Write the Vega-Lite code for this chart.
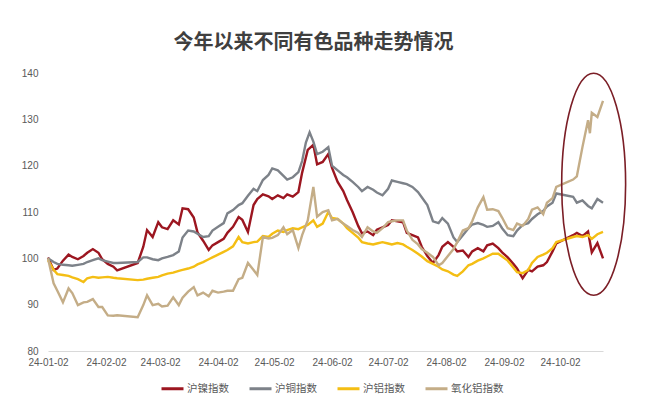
{
"$schema": "https://vega.github.io/schema/vega-lite/v6.json",
"width": 555, "height": 278,
"autosize": {"type": "none"},
"padding": {"left": 48, "top": 73, "right": 51, "bottom": 54},
"background": "white",
"title": {"text": "今年以来不同有色品种走势情况", "font": "Noto Sans CJK SC", "fontSize": 20, "fontWeight": "bold", "color": "#3F3F3F", "anchor": "middle", "frame": "group", "offset": 15, "dx": -12},
"config": {"view": {"stroke": null}, "axis": {"labelFont": "Liberation Sans", "labelFontSize": 10, "labelColor": "#595959", "ticks": false, "grid": false, "title": null}},
"encoding": {
  "x": {"field": "d", "type": "temporal", "scale": {"type": "utc", "domain": [{"year": 2024, "month": 1, "date": 2, "utc": true}, {"year": 2024, "month": 10, "date": 25, "utc": true}]},
        "axis": {"values": [{"year": 2024, "month": 1, "date": 2, "utc": true}, {"year": 2024, "month": 2, "date": 2, "utc": true}, {"year": 2024, "month": 3, "date": 2, "utc": true}, {"year": 2024, "month": 4, "date": 2, "utc": true}, {"year": 2024, "month": 5, "date": 2, "utc": true}, {"year": 2024, "month": 6, "date": 2, "utc": true}, {"year": 2024, "month": 7, "date": 2, "utc": true}, {"year": 2024, "month": 8, "date": 2, "utc": true}, {"year": 2024, "month": 9, "date": 2, "utc": true}, {"year": 2024, "month": 10, "date": 2, "utc": true}],
                 "labelExpr": "utcFormat(datum.value, '%y-%m-%d')", "domain": true, "domainColor": "#D9D9D9", "domainWidth": 1, "labelPadding": 6, "labelFlush": false}},
  "y": {"field": "v", "type": "quantitative", "scale": {"domain": [80, 140], "nice": false, "zero": false},
        "axis": {"values": [80, 90, 100, 110, 120, 130, 140], "domain": false, "labelPadding": 10}}
},
"layer": [
{"data": {"values": [
{"d":"2024-01-02","v":100.2},{"d":"2024-01-05","v":97.5},{"d":"2024-01-07","v":97.8},{"d":"2024-01-10","v":99.5},{"d":"2024-01-13","v":100.8},{"d":"2024-01-15","v":100.3},{"d":"2024-01-18","v":99.8},{"d":"2024-01-21","v":100.5},{"d":"2024-01-23","v":101.2},{"d":"2024-01-26","v":102},{"d":"2024-01-29","v":101.2},{"d":"2024-01-31","v":99.8},{"d":"2024-02-03","v":98.8},{"d":"2024-02-06","v":98.2},{"d":"2024-02-08","v":97.4},{"d":"2024-02-19","v":99},{"d":"2024-02-22","v":102.5},{"d":"2024-02-24","v":106.1},{"d":"2024-02-27","v":104.6},{"d":"2024-03-01","v":107.8},{"d":"2024-03-03","v":106.7},{"d":"2024-03-06","v":106.3},{"d":"2024-03-09","v":108.2},{"d":"2024-03-12","v":107.3},{"d":"2024-03-14","v":110.8},{"d":"2024-03-17","v":110.6},{"d":"2024-03-20","v":108.8},{"d":"2024-03-22","v":105.6},{"d":"2024-03-25","v":103.8},{"d":"2024-03-28","v":101.8},{"d":"2024-03-30","v":102.8},{"d":"2024-04-02","v":103.5},{"d":"2024-04-05","v":104.2},{"d":"2024-04-07","v":105.5},{"d":"2024-04-10","v":106.8},{"d":"2024-04-13","v":108.9},{"d":"2024-04-15","v":108.3},{"d":"2024-04-18","v":105.7},{"d":"2024-04-21","v":111.5},{"d":"2024-04-23","v":112.8},{"d":"2024-04-26","v":113.8},{"d":"2024-04-29","v":113.4},{"d":"2024-05-01","v":112.8},{"d":"2024-05-04","v":113.6},{"d":"2024-05-07","v":113},{"d":"2024-05-09","v":113.8},{"d":"2024-05-12","v":113.3},{"d":"2024-05-15","v":114.3},{"d":"2024-05-17","v":118.5},{"d":"2024-05-20","v":123.4},{"d":"2024-05-23","v":124.5},{"d":"2024-05-25","v":120.3},{"d":"2024-05-28","v":120.8},{"d":"2024-05-31","v":122.5},{"d":"2024-06-02","v":119.5},{"d":"2024-06-05","v":116.5},{"d":"2024-06-08","v":114.5},{"d":"2024-06-10","v":112.6},{"d":"2024-06-13","v":110},{"d":"2024-06-16","v":107},{"d":"2024-06-18","v":105.4},{"d":"2024-06-21","v":105.8},{"d":"2024-06-24","v":105},{"d":"2024-06-26","v":106.2},{"d":"2024-06-29","v":106.7},{"d":"2024-07-02","v":107.2},{"d":"2024-07-04","v":108.2},{"d":"2024-07-07","v":108},{"d":"2024-07-10","v":107.8},{"d":"2024-07-12","v":105.5},{"d":"2024-07-15","v":105},{"d":"2024-07-18","v":104.5},{"d":"2024-07-20","v":102.5},{"d":"2024-07-23","v":100.5},{"d":"2024-07-26","v":99},{"d":"2024-07-29","v":100.7},{"d":"2024-07-31","v":102.5},{"d":"2024-08-03","v":103.5},{"d":"2024-08-06","v":102.5},{"d":"2024-08-08","v":101.5},{"d":"2024-08-11","v":101.7},{"d":"2024-08-14","v":100.3},{"d":"2024-08-16","v":101.5},{"d":"2024-08-19","v":102.2},{"d":"2024-08-22","v":101.5},{"d":"2024-08-24","v":102.8},{"d":"2024-08-27","v":103.2},{"d":"2024-08-30","v":102.2},{"d":"2024-09-01","v":101.3},{"d":"2024-09-04","v":100.2},{"d":"2024-09-07","v":98.8},{"d":"2024-09-09","v":97.8},{"d":"2024-09-12","v":95.7},{"d":"2024-09-15","v":97.5},{"d":"2024-09-17","v":97.2},{"d":"2024-09-20","v":98.2},{"d":"2024-09-23","v":98.5},{"d":"2024-09-25","v":99.2},{"d":"2024-09-28","v":101.5},{"d":"2024-09-30","v":103.2},{"d":"2024-10-09","v":105},{"d":"2024-10-11","v":105.5},{"d":"2024-10-14","v":104.8},{"d":"2024-10-17","v":105.8},{"d":"2024-10-19","v":101.3},{"d":"2024-10-22","v":103.3},{"d":"2024-10-25","v":100}
]},
 "mark": {"type": "line", "strokeWidth": 2.4},
 "encoding": {"color": {"datum": "沪镍指数", "type": "nominal",
   "scale": {"domain": ["沪镍指数", "沪铜指数", "沪铝指数", "氧化铝指数"], "range": ["#9C1620", "#7D8289", "#F4BE14", "#C4AD87"]},
   "legend": {"orient": "none", "legendX": 112, "legendY": 303, "direction": "horizontal", "title": null, "symbolType": "stroke", "symbolSize": 484, "symbolStrokeWidth": 3, "labelFont": "Noto Sans CJK SC", "labelFontSize": 10.5, "labelColor": "#595959", "labelOffset": 2, "columnPadding": 14}}}
},
{"data": {"values": [
{"d":"2024-01-02","v":100},{"d":"2024-01-05","v":99.2},{"d":"2024-01-07","v":98.8},{"d":"2024-01-10","v":98.6},{"d":"2024-01-13","v":98.5},{"d":"2024-01-15","v":98.4},{"d":"2024-01-18","v":98.6},{"d":"2024-01-21","v":98.8},{"d":"2024-01-23","v":99.2},{"d":"2024-01-26","v":99.6},{"d":"2024-01-29","v":100},{"d":"2024-01-31","v":99.6},{"d":"2024-02-03","v":99.3},{"d":"2024-02-06","v":99},{"d":"2024-02-08","v":99},{"d":"2024-02-19","v":99.2},{"d":"2024-02-22","v":100.2},{"d":"2024-02-24","v":100.2},{"d":"2024-02-27","v":99.8},{"d":"2024-03-01","v":99.6},{"d":"2024-03-03","v":100},{"d":"2024-03-06","v":100.3},{"d":"2024-03-09","v":100.7},{"d":"2024-03-12","v":101.5},{"d":"2024-03-14","v":104.5},{"d":"2024-03-17","v":106},{"d":"2024-03-20","v":105.8},{"d":"2024-03-22","v":105.3},{"d":"2024-03-25","v":104.6},{"d":"2024-03-28","v":104.8},{"d":"2024-03-30","v":106},{"d":"2024-04-02","v":106.8},{"d":"2024-04-05","v":107.6},{"d":"2024-04-07","v":109.7},{"d":"2024-04-10","v":110.4},{"d":"2024-04-13","v":111.5},{"d":"2024-04-15","v":111.9},{"d":"2024-04-18","v":113.5},{"d":"2024-04-21","v":115},{"d":"2024-04-23","v":114.5},{"d":"2024-04-26","v":116.9},{"d":"2024-04-29","v":118},{"d":"2024-05-01","v":119.4},{"d":"2024-05-04","v":119},{"d":"2024-05-07","v":117.8},{"d":"2024-05-09","v":117},{"d":"2024-05-12","v":117.5},{"d":"2024-05-15","v":118.6},{"d":"2024-05-17","v":121},{"d":"2024-05-19","v":125},{"d":"2024-05-21","v":127.2},{"d":"2024-05-23","v":125.2},{"d":"2024-05-25","v":122.5},{"d":"2024-05-28","v":123},{"d":"2024-05-31","v":124},{"d":"2024-06-02","v":120},{"d":"2024-06-05","v":119},{"d":"2024-06-08","v":118},{"d":"2024-06-10","v":117.5},{"d":"2024-06-13","v":116.5},{"d":"2024-06-16","v":115.4},{"d":"2024-06-18","v":114.5},{"d":"2024-06-21","v":115.4},{"d":"2024-06-24","v":114.8},{"d":"2024-06-26","v":114.2},{"d":"2024-06-29","v":113.6},{"d":"2024-07-02","v":115},{"d":"2024-07-04","v":116.8},{"d":"2024-07-07","v":116.5},{"d":"2024-07-10","v":116.2},{"d":"2024-07-12","v":116},{"d":"2024-07-15","v":115.4},{"d":"2024-07-18","v":114.3},{"d":"2024-07-20","v":113.2},{"d":"2024-07-23","v":111.5},{"d":"2024-07-26","v":108},{"d":"2024-07-29","v":107.6},{"d":"2024-07-31","v":108.7},{"d":"2024-08-03","v":107.5},{"d":"2024-08-06","v":104.5},{"d":"2024-08-08","v":103.5},{"d":"2024-08-11","v":105},{"d":"2024-08-14","v":106.5},{"d":"2024-08-16","v":107.3},{"d":"2024-08-19","v":107.6},{"d":"2024-08-22","v":107.2},{"d":"2024-08-24","v":106.8},{"d":"2024-08-27","v":107},{"d":"2024-08-30","v":107.8},{"d":"2024-09-01","v":106.5},{"d":"2024-09-04","v":105},{"d":"2024-09-07","v":104.8},{"d":"2024-09-09","v":106},{"d":"2024-09-12","v":107.2},{"d":"2024-09-15","v":107.6},{"d":"2024-09-17","v":108.5},{"d":"2024-09-20","v":109.5},{"d":"2024-09-23","v":110.2},{"d":"2024-09-25","v":111.2},{"d":"2024-09-28","v":112},{"d":"2024-09-30","v":114},{"d":"2024-10-09","v":113.3},{"d":"2024-10-11","v":112},{"d":"2024-10-14","v":112.5},{"d":"2024-10-17","v":111.3},{"d":"2024-10-19","v":110.8},{"d":"2024-10-22","v":112.8},{"d":"2024-10-25","v":112}
]},
 "mark": {"type": "line", "strokeWidth": 2.4},
 "encoding": {"color": {"datum": "沪铜指数", "type": "nominal"}}
},
{"data": {"values": [
{"d":"2024-01-02","v":99.6},{"d":"2024-01-05","v":97.5},{"d":"2024-01-07","v":96.6},{"d":"2024-01-10","v":96.4},{"d":"2024-01-13","v":96.2},{"d":"2024-01-15","v":95.9},{"d":"2024-01-18","v":95.5},{"d":"2024-01-21","v":94.9},{"d":"2024-01-23","v":95.7},{"d":"2024-01-26","v":96},{"d":"2024-01-29","v":95.8},{"d":"2024-01-31","v":95.9},{"d":"2024-02-03","v":96},{"d":"2024-02-06","v":95.8},{"d":"2024-02-08","v":95.7},{"d":"2024-02-19","v":95.3},{"d":"2024-02-22","v":95.4},{"d":"2024-02-24","v":95.6},{"d":"2024-02-27","v":95.8},{"d":"2024-03-01","v":96},{"d":"2024-03-03","v":96.3},{"d":"2024-03-06","v":96.7},{"d":"2024-03-09","v":96.9},{"d":"2024-03-12","v":97.3},{"d":"2024-03-14","v":97.5},{"d":"2024-03-17","v":97.8},{"d":"2024-03-20","v":98.2},{"d":"2024-03-22","v":98.7},{"d":"2024-03-25","v":99.2},{"d":"2024-03-28","v":99.8},{"d":"2024-03-30","v":100.2},{"d":"2024-04-02","v":100.8},{"d":"2024-04-05","v":101.4},{"d":"2024-04-07","v":101.8},{"d":"2024-04-10","v":102.6},{"d":"2024-04-13","v":104.6},{"d":"2024-04-15","v":103.5},{"d":"2024-04-18","v":103.2},{"d":"2024-04-21","v":103.5},{"d":"2024-04-23","v":103.6},{"d":"2024-04-26","v":104.8},{"d":"2024-04-29","v":104.6},{"d":"2024-05-01","v":105.3},{"d":"2024-05-04","v":106},{"d":"2024-05-07","v":105.7},{"d":"2024-05-09","v":106.1},{"d":"2024-05-12","v":106.5},{"d":"2024-05-15","v":106.3},{"d":"2024-05-17","v":106.7},{"d":"2024-05-20","v":107.2},{"d":"2024-05-23","v":108.2},{"d":"2024-05-25","v":106.8},{"d":"2024-05-28","v":107.5},{"d":"2024-05-31","v":110},{"d":"2024-06-02","v":108.7},{"d":"2024-06-05","v":108.5},{"d":"2024-06-08","v":107.5},{"d":"2024-06-10","v":106.5},{"d":"2024-06-13","v":105.5},{"d":"2024-06-16","v":104.5},{"d":"2024-06-18","v":103.5},{"d":"2024-06-21","v":103.2},{"d":"2024-06-24","v":103},{"d":"2024-06-26","v":103.2},{"d":"2024-06-29","v":103.5},{"d":"2024-07-02","v":103.2},{"d":"2024-07-04","v":103},{"d":"2024-07-07","v":103.3},{"d":"2024-07-10","v":103},{"d":"2024-07-12","v":102.5},{"d":"2024-07-15","v":101.8},{"d":"2024-07-18","v":101},{"d":"2024-07-20","v":100.4},{"d":"2024-07-23","v":99.4},{"d":"2024-07-26","v":98.8},{"d":"2024-07-29","v":98.2},{"d":"2024-07-31","v":97.6},{"d":"2024-08-03","v":97.2},{"d":"2024-08-06","v":96.5},{"d":"2024-08-08","v":96.2},{"d":"2024-08-11","v":97.2},{"d":"2024-08-14","v":98.5},{"d":"2024-08-16","v":98.8},{"d":"2024-08-19","v":99.5},{"d":"2024-08-22","v":100},{"d":"2024-08-24","v":100.4},{"d":"2024-08-27","v":101},{"d":"2024-08-30","v":101},{"d":"2024-09-01","v":100.4},{"d":"2024-09-04","v":99.5},{"d":"2024-09-07","v":98},{"d":"2024-09-09","v":97},{"d":"2024-09-12","v":96.8},{"d":"2024-09-15","v":97.5},{"d":"2024-09-17","v":99},{"d":"2024-09-20","v":100.3},{"d":"2024-09-23","v":100.8},{"d":"2024-09-25","v":101.2},{"d":"2024-09-28","v":102.2},{"d":"2024-09-30","v":103.5},{"d":"2024-10-09","v":104.6},{"d":"2024-10-11","v":104.8},{"d":"2024-10-14","v":104.6},{"d":"2024-10-17","v":105},{"d":"2024-10-19","v":104.2},{"d":"2024-10-22","v":105.2},{"d":"2024-10-25","v":105.7}
]},
 "mark": {"type": "line", "strokeWidth": 2.4},
 "encoding": {"color": {"datum": "沪铝指数", "type": "nominal"}}
},
{"data": {"values": [
{"d":"2024-01-02","v":100},{"d":"2024-01-05","v":94.6},{"d":"2024-01-07","v":93},{"d":"2024-01-10","v":90.5},{"d":"2024-01-13","v":93.5},{"d":"2024-01-15","v":92.5},{"d":"2024-01-18","v":89.9},{"d":"2024-01-21","v":90.5},{"d":"2024-01-23","v":90.6},{"d":"2024-01-26","v":91.2},{"d":"2024-01-29","v":89.5},{"d":"2024-01-31","v":89.5},{"d":"2024-02-03","v":87.7},{"d":"2024-02-06","v":87.6},{"d":"2024-02-08","v":87.7},{"d":"2024-02-19","v":87.3},{"d":"2024-02-22","v":89.9},{"d":"2024-02-24","v":92},{"d":"2024-02-27","v":89.9},{"d":"2024-03-01","v":90.2},{"d":"2024-03-03","v":89.6},{"d":"2024-03-06","v":89.8},{"d":"2024-03-09","v":91.6},{"d":"2024-03-12","v":89.9},{"d":"2024-03-14","v":91.5},{"d":"2024-03-17","v":92.8},{"d":"2024-03-20","v":93.8},{"d":"2024-03-22","v":92},{"d":"2024-03-25","v":92.6},{"d":"2024-03-28","v":91.8},{"d":"2024-03-30","v":93},{"d":"2024-04-02","v":92.6},{"d":"2024-04-05","v":92.8},{"d":"2024-04-07","v":93},{"d":"2024-04-10","v":93},{"d":"2024-04-13","v":95.5},{"d":"2024-04-15","v":95.8},{"d":"2024-04-18","v":99},{"d":"2024-04-21","v":97.5},{"d":"2024-04-23","v":96.4},{"d":"2024-04-26","v":104.6},{"d":"2024-04-29","v":104.3},{"d":"2024-05-01","v":104.4},{"d":"2024-05-04","v":105},{"d":"2024-05-07","v":106.7},{"d":"2024-05-09","v":105.2},{"d":"2024-05-12","v":106.1},{"d":"2024-05-15","v":102.2},{"d":"2024-05-17","v":105},{"d":"2024-05-20","v":108.2},{"d":"2024-05-23","v":115.4},{"d":"2024-05-25","v":109},{"d":"2024-05-28","v":110},{"d":"2024-05-31","v":110.4},{"d":"2024-06-02","v":108.2},{"d":"2024-06-05","v":108.5},{"d":"2024-06-08","v":107.5},{"d":"2024-06-10","v":107},{"d":"2024-06-13","v":106.1},{"d":"2024-06-16","v":105.5},{"d":"2024-06-18","v":104.6},{"d":"2024-06-21","v":106.7},{"d":"2024-06-24","v":105.8},{"d":"2024-06-26","v":105.5},{"d":"2024-06-29","v":106.5},{"d":"2024-07-02","v":107.8},{"d":"2024-07-04","v":108},{"d":"2024-07-07","v":108.2},{"d":"2024-07-10","v":108.2},{"d":"2024-07-12","v":106},{"d":"2024-07-15","v":104},{"d":"2024-07-18","v":103},{"d":"2024-07-20","v":102},{"d":"2024-07-23","v":101.2},{"d":"2024-07-26","v":100.3},{"d":"2024-07-29","v":98.5},{"d":"2024-07-31","v":99},{"d":"2024-08-03","v":100.5},{"d":"2024-08-06","v":102},{"d":"2024-08-08","v":103.5},{"d":"2024-08-11","v":106},{"d":"2024-08-14","v":106.5},{"d":"2024-08-16","v":108},{"d":"2024-08-19","v":111},{"d":"2024-08-22","v":113.2},{"d":"2024-08-24","v":110.5},{"d":"2024-08-27","v":110.6},{"d":"2024-08-30","v":110.2},{"d":"2024-09-01","v":108.8},{"d":"2024-09-04","v":106.5},{"d":"2024-09-07","v":106.1},{"d":"2024-09-09","v":107.5},{"d":"2024-09-12","v":107},{"d":"2024-09-15","v":108.5},{"d":"2024-09-17","v":110.5},{"d":"2024-09-20","v":111},{"d":"2024-09-23","v":109.5},{"d":"2024-09-25","v":112},{"d":"2024-09-28","v":113},{"d":"2024-09-30","v":115.4},{"d":"2024-10-09","v":117},{"d":"2024-10-11","v":117.7},{"d":"2024-10-14","v":124},{"d":"2024-10-17","v":129.8},{"d":"2024-10-18","v":127},{"d":"2024-10-19","v":131.4},{"d":"2024-10-22","v":130.5},{"d":"2024-10-25","v":134}
]},
 "mark": {"type": "line", "strokeWidth": 2.4},
 "encoding": {"color": {"datum": "氧化铝指数", "type": "nominal"}}
},
{"data": {"values": [{"d": "2024-10-20", "v": 116}]},
 "mark": {"type": "point", "shape": "M0,-1A0.288,1 0 1,1 0,1A0.288,1 0 1,1 0,-1Z", "size": 49284, "filled": false, "color": "#7B1E26", "strokeWidth": 1.6, "opacity": 1}
}
]
}
